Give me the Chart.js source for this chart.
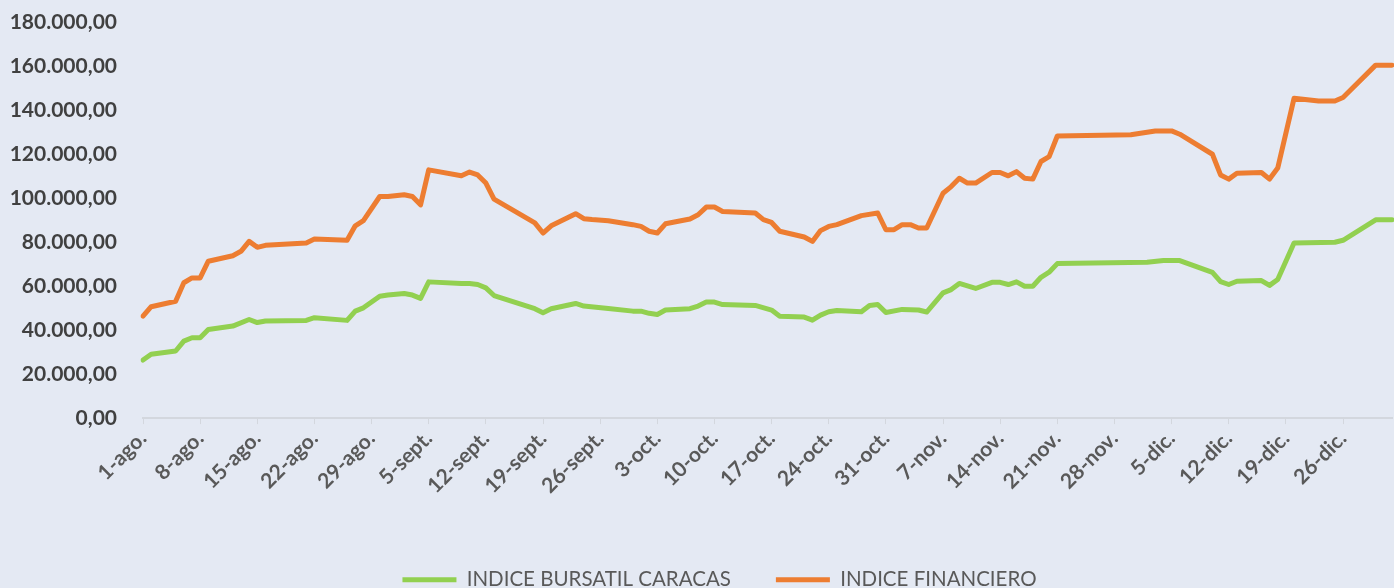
<!DOCTYPE html>
<html>
<head>
<meta charset="utf-8">
<script src="https://cdn.jsdelivr.net/npm/chart.js@4.4.0/dist/chart.umd.min.js"></script>
<style>
body{margin:0;background:#e4e9f3;overflow:hidden}
.wrap{width:1394px;height:588px;overflow:hidden}
</style>
</head>
<body>
<div class="wrap"><canvas id="myChart" width="1394" height="600"></canvas></div>
<script>
// eje x: un punto por dia, 1-ago. hasta 1-ene.
const months = ['ago.', 'sept.', 'oct.', 'nov.', 'dic.', 'ene.'];
const monthDays = [31, 30, 31, 30, 31, 1];

// INDICE FINANCIERO (dia desde 1-ago., valor)
const finDays = [0,1,4,5,6,7,8,11,12,13,14,15,20,21,25,26,27,29,30,32,33,34,35,39,40,41,42,43,48,49,50,53,54,55,57,60,61,62,63,64,67,68,69,70,71,75,76,77,78,81,82,83,84,85,88,90,91,92,93,94,95,96,98,99,100,101,102,104,105,106,107,108,109,110,111,112,121,124,126,127,131,132,133,134,137,138,139,141,144,146,147,151,153];
const finValues = [46300,50600,53100,61500,63700,63700,71300,73800,75800,80300,77600,78500,79600,81400,80800,87400,89700,100700,100700,101500,100700,96900,112800,110100,111800,110500,106800,99500,88700,84100,87400,92900,90600,90200,89700,87900,87100,84900,84100,88300,90500,92400,95900,95900,93900,93200,90200,88900,84900,82300,80300,85200,87100,87900,92000,93200,85600,85600,87900,87900,86400,86400,102200,105200,109000,106800,106800,111600,111600,110100,112000,109000,108600,116600,118800,128200,128800,130500,130500,129000,119900,110500,108600,111300,111600,108600,113600,145300,144100,144100,145700,160400,160400];

// INDICE BURSATIL CARACAS
const ibcDays = [0,1,4,5,6,7,8,11,13,14,15,20,21,25,26,27,29,30,32,33,34,35,39,40,41,42,43,48,49,50,53,54,57,60,61,62,63,64,67,68,69,70,71,75,77,78,81,82,83,84,85,88,89,90,91,93,95,96,98,99,100,102,104,105,106,107,108,109,110,111,112,123,125,127,131,132,133,134,137,138,139,141,146,147,151,153];
const ibcValues = [26400,29000,30500,35000,36500,36500,40300,41800,44800,43400,44100,44400,45600,44400,48600,50100,55400,55900,56600,55900,54400,61900,61200,61200,60700,59200,55700,49700,47900,49700,52100,50900,49800,48600,48600,47600,47100,49100,49700,50900,52700,52700,51600,51200,49100,46300,45900,44500,46800,48300,48900,48300,51200,51600,48000,49400,49100,48200,56900,58400,61200,58900,61700,61700,60700,61900,59900,59900,64000,66300,70200,70800,71600,71600,66200,62000,60700,62200,62500,60300,63000,79600,79900,80800,90100,90100];

const labels = [];
months.forEach(function(m, k) {
  for (let d = 1; d <= monthDays[k]; d++) labels.push(d + '-' + m);
});

function fullSeries(days, vals) {
  const a = labels.map(function() { return null; });
  days.forEach(function(d, i) { a[d] = vals[i]; });
  return a;
}

function fmt(v) {
  return v.toFixed(2).replace('.', ',').replace(/\B(?=(\d{3})+(?!\d))/g, '.');
}

const tickFont = { family: 'Lato', size: 21, weight: 'bold' };

// la leyenda del original va algo desplazada a la derecha
const legendShift = {
  id: 'legendShift',
  afterLayout: function(chart) {
    chart.legend.left += 21;
    chart.legend.right += 21;
  }
};

const config = {
  type: 'line',
  data: {
    labels: labels,
    datasets: [{
      label: 'INDICE BURSATIL CARACAS',
      data: fullSeries(ibcDays, ibcValues),
      borderColor: '#92d050',
      backgroundColor: '#92d050',
      borderWidth: 5,
      borderCapStyle: 'round',
      borderJoinStyle: 'round',
      pointRadius: 0,
      spanGaps: true
    }, {
      label: 'INDICE FINANCIERO',
      data: fullSeries(finDays, finValues),
      borderColor: '#ed7d31',
      backgroundColor: '#ed7d31',
      borderWidth: 5,
      borderCapStyle: 'round',
      borderJoinStyle: 'round',
      pointRadius: 0,
      spanGaps: true
    }]
  },
  options: {
    responsive: false,
    animation: false,
    layout: { padding: { left: 5, right: 2, top: 22, bottom: 0 } },
    plugins: {
      tooltip: { enabled: false },
      legend: {
        position: 'bottom',
        labels: {
          usePointStyle: true,
          pointStyle: 'line',
          pointStyleWidth: 54,
          padding: 45,
          color: '#595959',
          font: { family: 'Lato', size: 20.5 }
        }
      }
    },
    scales: {
      x: {
        offset: false,
        grid: { display: true, drawOnChartArea: false, drawTicks: true, tickLength: 6, color: '#d3d7de' },
        border: { display: true, color: '#d3d7de', width: 2 },
        ticks: {
          autoSkip: false,
          maxRotation: 45,
          minRotation: 45,
          padding: 2,
          color: '#595959',
          font: tickFont,
          callback: function(v, i) {
            return (i % 7 === 0 && i <= 147) ? this.getLabelForValue(v) : null;
          }
        },
        afterFit: function(s) { s.height += 24; }
      },
      y: {
        min: 0,
        max: 180000,
        grid: { display: false, drawTicks: true, tickLength: 26 },
        border: { display: false },
        ticks: { stepSize: 20000, padding: 0, color: '#404040', font: tickFont, callback: function(v) { return fmt(v); } },
        afterFit: function(s) { s.width = 138; }
      }
    }
  },
  plugins: [legendShift]
};

const myChart = new Chart(document.getElementById('myChart').getContext('2d'), config);
</script>
</body>
</html>
